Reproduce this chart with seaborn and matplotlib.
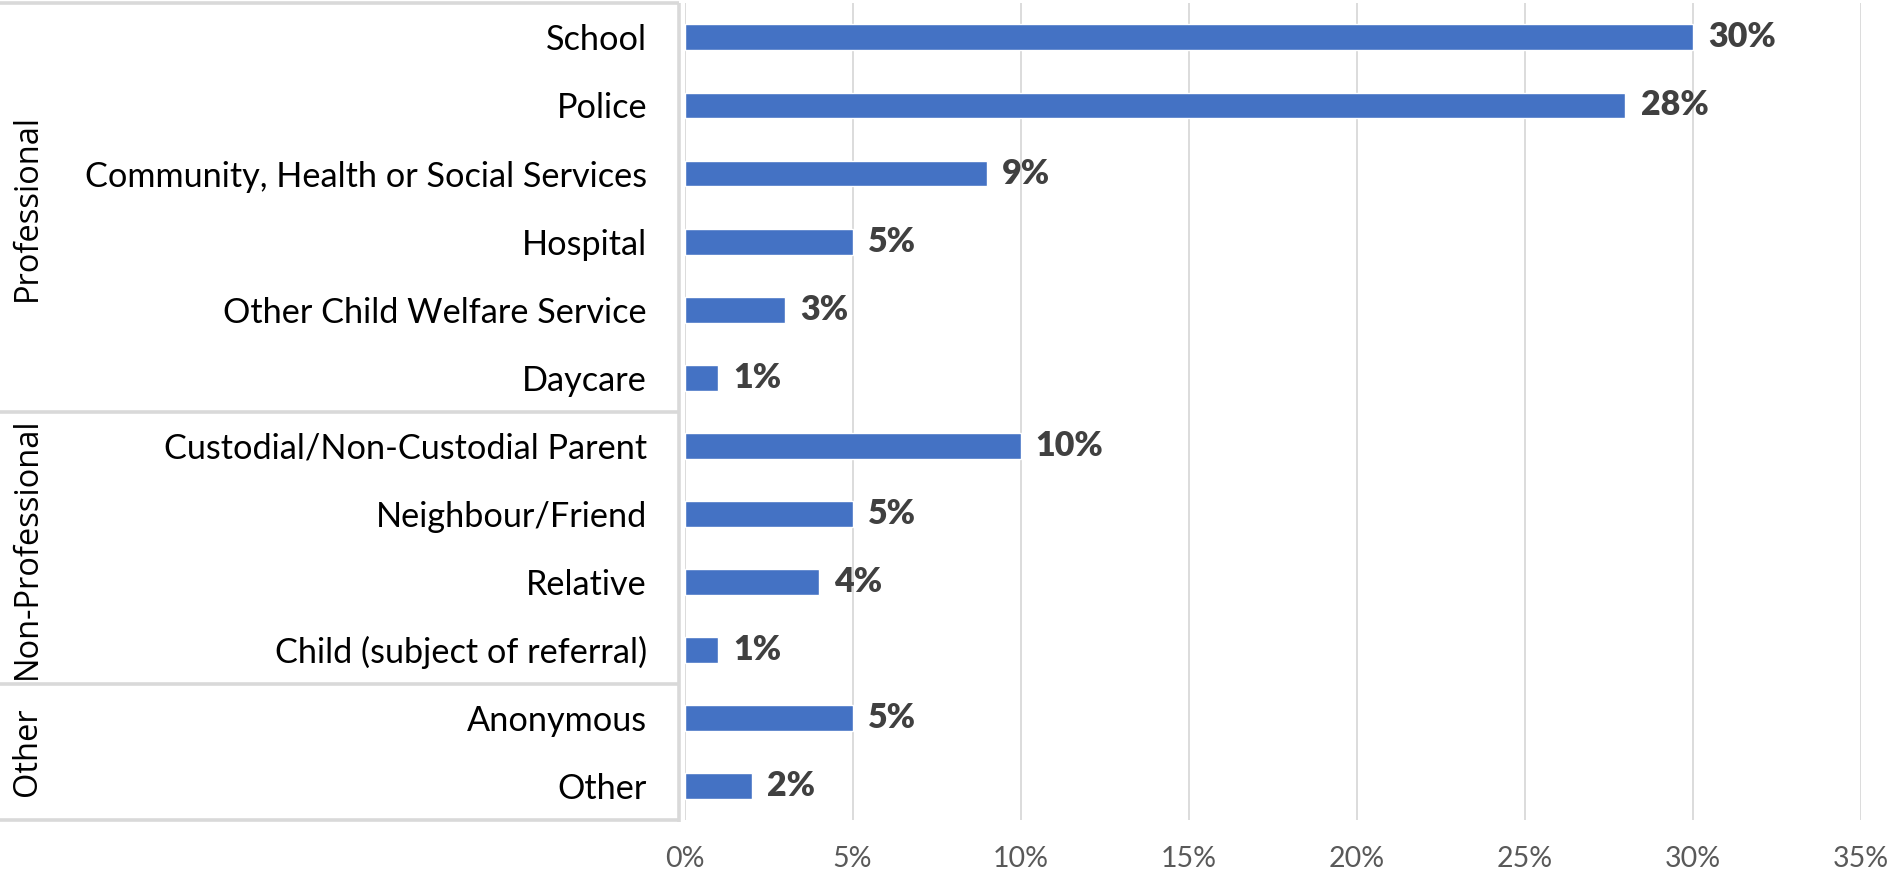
import matplotlib
matplotlib.use('Agg')
import matplotlib.pyplot as plt
import matplotlib.transforms as mtransforms
import seaborn as sns
import pandas as pd

categories = ["School", "Police", "Community, Health or Social Services", "Hospital",
              "Other Child Welfare Service", "Daycare", "Custodial/Non-Custodial Parent",
              "Neighbour/Friend", "Relative", "Child (subject of referral)", "Anonymous", "Other"]
values = [30, 28, 9, 5, 3, 1, 10, 5, 4, 1, 5, 2]
groups = ["Professional", "Non-Professional", "Other"]
group_sizes = [6, 4, 2]
x_ticks = [0, 5, 10, 15, 20, 25, 30, 35]

sns.set_theme(style='white')
plt.rcParams['font.family'] = ['Lato', 'DejaVu Sans']

W, H = 1893, 875
fig = plt.figure(figsize=(W / 100, H / 100), dpi=100)
x0_px, x35_px, top_px, bot_px = 684.5, 1860.5, 3.4, 820
ax = fig.add_axes([x0_px / W, 1 - bot_px / H, (x35_px - x0_px) / W, (bot_px - top_px) / H])

df = pd.DataFrame({'cat': categories, 'val': values})
sns.barplot(data=df, x='val', y='cat', color='#4472C4', width=0.38, saturation=1, ax=ax)

ax.set_xlim(0, 35)
ax.set_ylim(len(categories) - 0.5, -0.5)
ax.set_xticks(x_ticks)
ax.set_xticklabels([f'{t}%' for t in x_ticks])
ax.grid(axis='x', color='#D9D9D9', lw=1.3)
ax.grid(axis='y', visible=False)
ax.set_axisbelow(True)
for s in ax.spines.values():
    s.set_visible(False)
ax.tick_params(axis='x', length=0, pad=19, labelsize=20.5, labelcolor='#595959')
ax.tick_params(axis='y', length=0, pad=27, labelsize=24.7, labelcolor='black')
ax.set_xlabel('')
ax.set_ylabel('')

ax.bar_label(ax.containers[0], labels=[f'{v:.0f}%' for v in values], padding=11,
             fontsize=24.5, fontweight='heavy', color='#404040')

# multi-level category box
trans = mtransforms.blended_transform_factory(ax.transAxes, ax.transData)
span = x35_px - x0_px
xl = -x0_px / span
xr = -6 / span
bounds = [-0.5]
for g in group_sizes:
    bounds.append(bounds[-1] + g)
for b in bounds:
    ax.plot([xl, xr], [b, b], transform=trans, clip_on=False, color='#D9D9D9', lw=2.6,
            solid_capstyle='butt')
ax.plot([xr, xr], [bounds[0], bounds[-1] + 0.03], transform=trans, clip_on=False,
        color='#D9D9D9', lw=2.6, solid_capstyle='butt')

gx = (27 - x0_px) / span
for name, a, b in zip(groups, bounds[:-1], bounds[1:]):
    ax.text(gx, (a + b) / 2, name, transform=trans, rotation=90, ha='center', va='center',
            fontsize=23.5, family=['Open Sans', 'DejaVu Sans'], color='black')

fig.savefig('out.png', dpi=100)
